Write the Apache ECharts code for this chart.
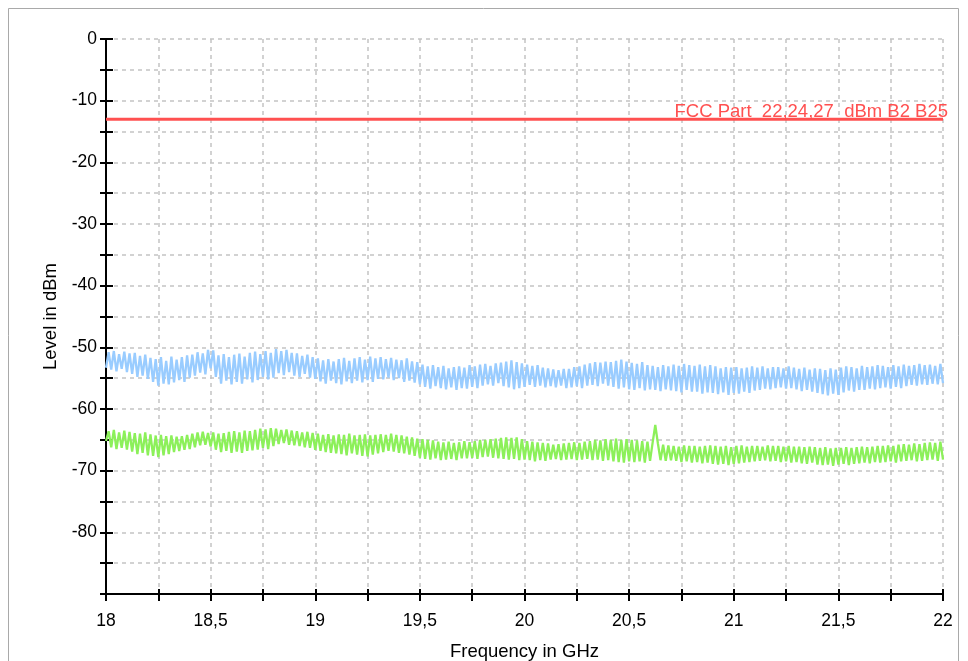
<!DOCTYPE html>
<html>
<head>
<meta charset="utf-8">
<title>Spurious emissions 18–22 GHz</title>
<script src="https://cdn.jsdelivr.net/npm/echarts@6/dist/echarts.min.js"></script>
<style>
  html, body { margin: 0; padding: 0; background: #fff; }
  #chart { width: 968px; height: 661px; }
</style>
</head>
<body>
<div id="chart"></div>
<script>
// Sweep set-up: 18 GHz start, 12.5 MHz between measured points
const sweepStartGHz = 18;
const sweepStepGHz = 0.0125;

// Measured level, blue trace (dBm)
const blueLevel = [-53.3,
 -50.8,-53.6,-50.6,-53.9,-51.1,-53.5,-50.7,-54.0,
 -51.0,-54.3,-50.9,-54.8,-51.4,-54.6,-51.2,-55.1,
 -51.7,-55.6,-51.9,-56.2,-51.6,-55.9,-52.2,-56.0,
 -51.5,-55.7,-52.0,-55.3,-51.6,-55.6,-51.3,-54.9,
 -51.2,-54.6,-50.8,-54.1,-51.0,-54.4,-50.4,-53.4,
 -50.5,-54.8,-51.3,-55.9,-51.1,-55.4,-51.6,-56.0,
 -51.2,-55.6,-51.0,-55.9,-51.5,-55.2,-50.9,-55.7,
 -50.7,-55.3,-51.1,-54.8,-50.6,-55.2,-50.9,-54.9,
 -50.3,-54.2,-50.6,-54.5,-50.4,-54.0,-50.9,-54.6,
 -51.0,-54.8,-51.4,-54.3,-51.2,-54.9,-51.6,-55.1,
 -51.8,-55.5,-52.1,-55.9,-51.9,-55.4,-52.3,-55.8,
 -51.9,-56.0,-51.7,-55.5,-52.2,-55.8,-51.8,-55.4,
 -51.6,-55.7,-52.0,-55.3,-51.5,-55.6,-51.8,-55.1,
 -51.6,-55.2,-51.9,-54.9,-51.7,-55.3,-52.0,-55.0,
 -52.1,-55.6,-51.8,-55.4,-52.3,-55.7,-52.4,-56.0,
 -52.8,-56.4,-53.1,-56.7,-52.9,-56.3,-53.2,-56.6,
 -53.0,-56.8,-53.4,-56.5,-53.2,-56.9,-53.1,-56.6,
 -53.3,-56.7,-52.9,-56.4,-53.1,-56.6,-52.8,-56.2,
 -52.7,-56.0,-53.0,-56.2,-52.6,-55.8,-52.5,-56.3,
 -52.3,-56.5,-52.1,-56.8,-52.4,-56.6,-52.6,-56.4,
 -52.8,-56.1,-53.0,-56.4,-52.9,-56.2,-53.3,-56.5,
 -53.4,-56.3,-53.6,-56.5,-53.7,-56.2,-53.5,-56.6,
 -53.5,-56.5,-53.2,-56.3,-53.1,-56.6,-52.8,-56.2,
 -52.6,-56.1,-52.4,-56.3,-52.5,-55.9,-52.3,-56.2,
 -52.4,-56.4,-52.2,-56.7,-52.0,-56.5,-52.3,-56.8,
 -52.5,-56.9,-52.7,-56.6,-52.4,-57.0,-52.9,-56.8,
 -53.0,-56.9,-53.2,-57.1,-52.9,-56.8,-53.1,-57.0,
 -52.8,-57.1,-53.0,-57.3,-52.7,-56.9,-52.9,-57.2,
 -53.0,-57.2,-52.8,-57.5,-53.1,-57.3,-52.9,-57.4,
 -53.1,-57.6,-53.4,-57.3,-53.2,-57.7,-53.3,-57.4,
 -53.2,-57.5,-53.4,-57.2,-53.3,-57.4,-53.1,-57.0,
 -53.3,-56.9,-53.1,-56.7,-53.4,-56.8,-53.2,-56.6,
 -53.2,-56.5,-53.4,-56.7,-53.1,-56.6,-53.3,-56.8,
 -53.5,-57.1,-53.3,-56.9,-53.6,-57.2,-53.4,-57.4,
 -53.5,-57.6,-53.7,-57.8,-53.4,-57.5,-53.6,-57.7,
 -53.3,-57.3,-53.1,-57.0,-53.2,-57.2,-53.4,-56.9,
 -53.0,-56.9,-53.2,-56.7,-53.1,-56.8,-52.9,-56.6,
 -53.0,-56.5,-53.2,-56.7,-52.9,-56.4,-53.1,-56.6,
 -52.8,-56.3,-53.0,-56.1,-52.9,-56.2,-52.7,-56.0,
 -52.9,-56.1,-52.8,-55.9,-53.0,-56.0,-52.7,-55.8];

// Measured level, green trace (dBm)
const greenLevel = [-65.2,
 -63.6,-66.2,-63.4,-66.5,-63.8,-66.3,-63.5,-66.6,
 -63.7,-66.9,-63.9,-67.3,-64.0,-67.1,-63.8,-67.5,
 -64.1,-67.6,-64.3,-67.8,-64.2,-67.5,-64.4,-67.3,
 -64.3,-67.0,-64.5,-66.8,-64.4,-66.6,-64.2,-66.5,
 -64.0,-66.2,-63.8,-65.9,-63.7,-65.8,-63.9,-66.1,
 -63.8,-66.6,-64.0,-67.0,-63.9,-66.8,-63.7,-67.1,
 -63.6,-66.9,-63.8,-67.1,-63.5,-66.8,-63.6,-66.7,
 -63.4,-66.6,-63.2,-66.3,-63.3,-66.5,-63.1,-66.0,
 -63.2,-65.7,-63.4,-65.5,-63.3,-65.8,-63.5,-65.9,
 -63.6,-66.0,-63.8,-66.2,-63.7,-66.3,-63.9,-66.6,
 -64.0,-66.8,-64.2,-67.0,-64.1,-67.1,-64.3,-67.2,
 -64.1,-67.3,-64.2,-67.5,-64.0,-67.2,-64.3,-67.4,
 -64.2,-67.6,-64.1,-67.7,-64.3,-67.4,-64.2,-67.2,
 -64.1,-67.0,-64.2,-66.8,-64.0,-66.9,-64.2,-67.1,
 -64.3,-67.2,-64.5,-67.4,-64.6,-67.6,-64.8,-67.9,
 -64.9,-68.1,-65.0,-68.2,-65.1,-68.0,-65.3,-68.3,
 -65.4,-68.2,-65.3,-68.1,-65.5,-68.3,-65.4,-68.0,
 -65.2,-68.0,-65.4,-67.9,-65.2,-68.1,-65.0,-67.8,
 -65.0,-67.7,-64.9,-67.9,-64.8,-68.0,-64.7,-68.1,
 -64.6,-68.2,-64.7,-68.1,-64.6,-68.3,-64.9,-68.2,
 -65.2,-68.3,-65.3,-68.5,-65.4,-68.3,-65.5,-68.4,
 -65.6,-68.2,-65.8,-68.1,-65.7,-68.3,-65.6,-68.2,
 -65.5,-68.1,-65.4,-68.3,-65.5,-68.2,-65.3,-68.1,
 -65.2,-68.3,-65.0,-68.2,-65.1,-68.4,-64.9,-68.3,
 -65.0,-68.5,-64.8,-68.6,-65.0,-68.7,-64.9,-68.5,
 -65.0,-68.6,-65.1,-68.5,-65.2,-68.7,-65.3,-68.4,
 -65.4,-62.6,-65.6,-68.3,-65.8,-68.4,-65.9,-68.3,
 -66.0,-68.4,-66.1,-68.6,-65.9,-68.5,-66.0,-68.7,
 -66.0,-68.6,-66.1,-68.8,-66.0,-68.7,-65.9,-68.9,
 -66.0,-69.0,-66.1,-68.9,-66.0,-69.1,-66.2,-68.9,
 -66.0,-68.8,-65.9,-68.7,-66.1,-68.6,-66.0,-68.5,
 -66.0,-68.4,-66.1,-68.3,-65.9,-68.5,-66.0,-68.4,
 -66.0,-68.6,-66.1,-68.5,-66.0,-68.7,-66.1,-68.6,
 -66.1,-68.8,-66.2,-68.9,-66.1,-68.7,-66.2,-69.0,
 -66.3,-69.1,-66.2,-69.0,-66.4,-69.2,-66.3,-69.0,
 -66.3,-68.9,-66.2,-69.1,-66.3,-68.9,-66.2,-68.8,
 -66.1,-68.7,-66.2,-68.8,-66.1,-68.6,-66.0,-68.7,
 -66.0,-68.6,-65.9,-68.5,-66.0,-68.7,-65.8,-68.5,
 -65.7,-68.4,-65.8,-68.3,-65.6,-68.5,-65.7,-68.4,
 -65.5,-68.3,-65.4,-68.2,-65.5,-68.4,-65.3,-68.2];

// Limit line
const limitFreq = [18, 22];
const limitLevel = [-13, -13];
const limitLabel = 'FCC Part  22,24,27  dBm B2 B25';

// Tick labels
const xTickValues = [18, 18.5, 19, 19.5, 20, 20.5, 21, 21.5, 22];
const xTickLabels = ['18', '18,5', '19', '19,5', '20', '20,5', '21', '21,5', '22'];
const yTickValues = [0, -10, -20, -30, -40, -50, -60, -70, -80];
const yTickLabels = ['0', '-10', '-20', '-30', '-40', '-50', '-60', '-70', '-80'];

const FONT = '"Liberation Sans", Arial, Helvetica, sans-serif';

function labelFor(values, labels, v) {
  for (let i = 0; i < values.length; i++) {
    if (Math.abs(values[i] - v) < 1e-6) return labels[i];
  }
  return '';
}

function toPairs(levels) {
  return levels.map((lv, i) => [sweepStartGHz + i * sweepStepGHz, lv]);
}

const limitData = limitFreq.map((f, i) => [f, limitLevel[i]]);
limitData[limitData.length - 1] = {
  value: limitData[limitData.length - 1],
  label: {
    show: true,
    position: 'top',
    distance: -2,
    align: 'right',
    offset: [5, 0],
    formatter: limitLabel,
    color: '#ff5050',
    fontSize: 18.5,
    fontFamily: FONT
  }
};

const gridDash = { color: '#c4c4c4', width: 1.5, type: [4, 4] };
const tickStyle = { color: '#000', width: 2 };

const yCommon = { type: 'value', min: -90, max: 0, interval: 5, position: 'left' };
const xCommon = { type: 'value', min: 18, max: 22, interval: 0.25, position: 'bottom' };

const option = {
  animation: false,
  backgroundColor: '#fff',
  grid: {
    left: 106, right: 25, top: 39, bottom: 67,
    containLabel: false,
    outerBoundsMode: 'none'
  },
  graphic: [{
    type: 'rect',
    silent: true,
    z: -10,
    shape: { x: 8.5, y: 8.5, width: 950, height: 700 },
    style: { fill: 'transparent', stroke: '#a9a9a9', lineWidth: 1 }
  }],
  xAxis: [
    Object.assign({}, xCommon, {
      name: 'Frequency in GHz',
      nameLocation: 'middle',
      nameGap: 48,
      nameTextStyle: { fontSize: 18.5, color: '#000', fontFamily: FONT },
      axisLine: { show: true, onZero: false, lineStyle: { color: '#000', width: 2 } },
      axisTick: { show: true, length: 7, lineStyle: tickStyle },
      axisLabel: {
        formatter: v => labelFor(xTickValues, xTickLabels, v),
        fontSize: 17.5, color: '#000', margin: 18, fontFamily: FONT
      },
      splitLine: { show: true, lineStyle: gridDash }
    }),
    Object.assign({}, xCommon, {
      axisLine: { show: false, onZero: false },
      axisTick: { show: true, inside: true, length: 5, lineStyle: tickStyle },
      axisLabel: { show: false },
      splitLine: { show: false }
    })
  ],
  yAxis: [
    Object.assign({}, yCommon, {
      name: 'Level in dBm',
      nameLocation: 'middle',
      nameGap: 45,
      nameTextStyle: { fontSize: 18.5, color: '#000', fontFamily: FONT },
      axisLine: { show: true, onZero: false, lineStyle: { color: '#000', width: 2 } },
      axisTick: { show: true, length: 6, lineStyle: tickStyle },
      axisLabel: {
        formatter: v => labelFor(yTickValues, yTickLabels, v),
        fontSize: 17.5, color: '#000', margin: 9, fontFamily: FONT
      },
      splitLine: { show: true, lineStyle: gridDash }
    }),
    Object.assign({}, yCommon, {
      axisLine: { show: false, onZero: false },
      axisTick: { show: true, inside: true, length: 7, lineStyle: tickStyle },
      axisLabel: { show: false },
      splitLine: { show: false }
    })
  ],
  series: [
    {
      name: 'Blue trace',
      type: 'line',
      xAxisIndex: 0, yAxisIndex: 0,
      data: toPairs(blueLevel),
      showSymbol: false,
      silent: true,
      lineStyle: { color: '#99ccff', width: 2.3 },
      z: 3
    },
    {
      name: 'Green trace',
      type: 'line',
      xAxisIndex: 0, yAxisIndex: 0,
      data: toPairs(greenLevel),
      showSymbol: false,
      silent: true,
      lineStyle: { color: '#8cf05a', width: 2.3 },
      z: 3
    },
    {
      name: 'Limit',
      type: 'line',
      xAxisIndex: 0, yAxisIndex: 0,
      data: limitData,
      symbol: 'circle',
      symbolSize: 0,
      showSymbol: true,
      silent: true,
      lineStyle: { color: '#ff5050', width: 3 },
      z: 4
    }
  ]
};

const chart = echarts.init(document.getElementById('chart'), null, { renderer: 'canvas' });
chart.setOption(option);
</script>
</body>
</html>
